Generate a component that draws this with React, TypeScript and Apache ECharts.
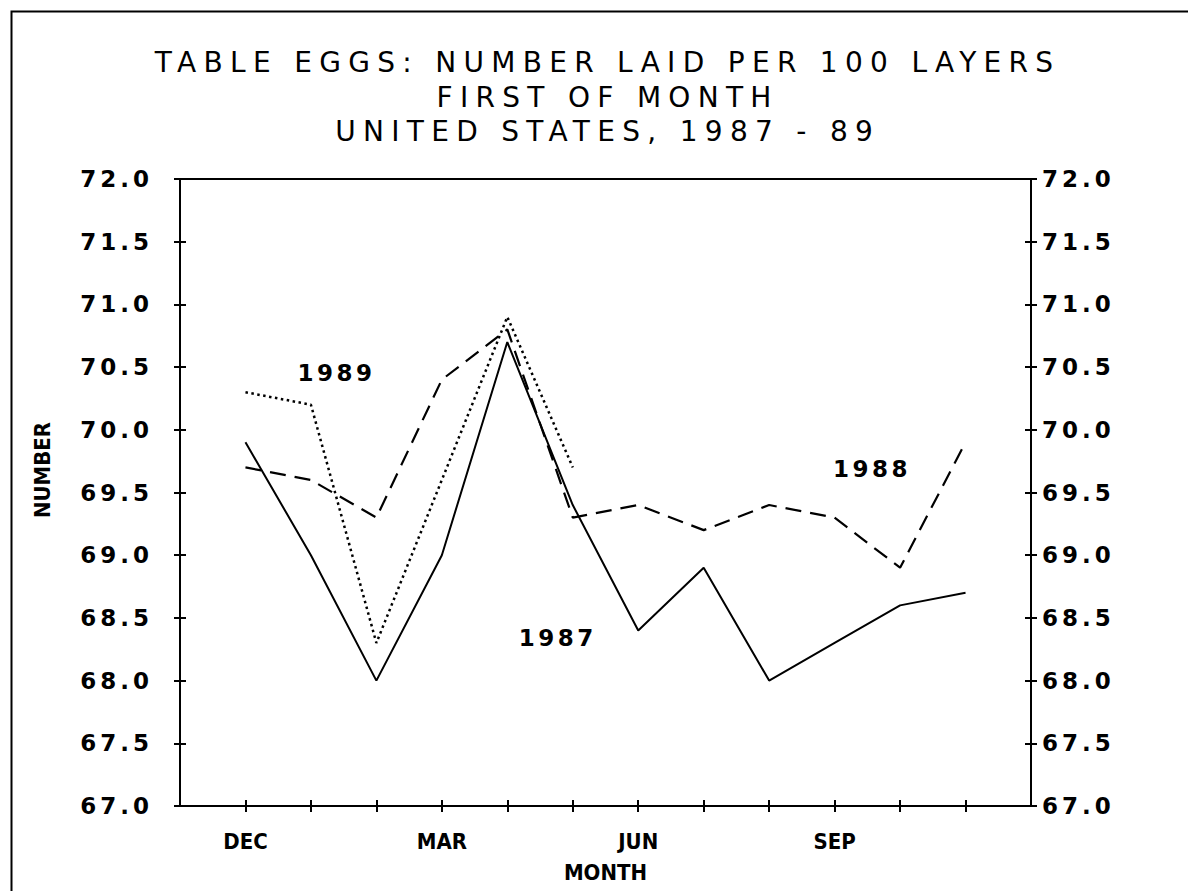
import React, { useEffect, useRef } from "react";
import * as echarts from "echarts";

const MONTHS = ["DEC", "JAN", "FEB", "MAR", "APR", "MAY", "JUN", "JUL", "AUG", "SEP", "OCT", "NOV"];
const LABELED_MONTHS = [0, 3, 6, 9];
const Y1987 = [69.9, 69.0, 68.0, 69.0, 70.7, 69.4, 68.4, 68.9, 68.0, 68.3, 68.6, 68.7];
const Y1988 = [69.7, 69.6, 69.3, 70.4, 70.8, 69.3, 69.4, 69.2, 69.4, 69.3, 68.9, 69.9];
const Y1989 = [70.3, 70.2, 68.3, 69.6, 70.9, 69.7];
const YEAR_LABELS: [number, number, string][] = [
  [1.39, 70.45, "1989"],
  [9.57, 69.69, "1988"],
  [4.77, 68.34, "1987"],
];
const TITLE_LINES = ["TABLE EGGS: NUMBER LAID PER 100 LAYERS", "FIRST OF MONTH", "UNITED STATES, 1987 - 89"];
const Y_MIN = 67;
const Y_MAX = 72;
const Y_STEP = 0.5;

const WIDE = "'DejaVu Sans', sans-serif";
const NARROW = "'DejaVu Sans Condensed', 'Liberation Sans Narrow', sans-serif";

const SP_TITLE = 7.3;
const SP_TICK = 4;
const SP_YEAR = 3.5;

export default function App() {
  const ref = useRef<HTMLDivElement>(null);
  useEffect(() => {
    if (!ref.current) return;
    const chart = echarts.init(ref.current, null, { renderer: "svg" });
    const toPairs = (arr: number[]) => arr.map((v, i) => [i, v]);
    const tickIdx = MONTHS.map((_, i) => i);
    const yLabel = {
      formatter: (v: number) => v.toFixed(1),
      color: "#000",
      fontFamily: WIDE,
      fontWeight: "bold" as const,
      fontSize: 23,
    };
    const noLine = { show: false, onZero: false };
    const yBase = { type: "value" as const, min: Y_MIN, max: Y_MAX, interval: Y_STEP, splitLine: { show: false } };
    const option: any = {
      animation: false,
      backgroundColor: "#fff",
      grid: { left: 180, right: 157, top: 179, bottom: 85, show: true, borderColor: "#000", borderWidth: 2 },
      xAxis: [
        {
          type: "value",
          min: -1,
          max: 12,
          interval: 1,
          position: "bottom",
          splitLine: { show: false },
          axisLine: noLine,
          axisTick: { show: true, length: 6, customValues: tickIdx, lineStyle: { color: "#000", width: 2 } },
          axisLabel: {
            customValues: LABELED_MONTHS,
            formatter: (v: number) => MONTHS[v] ?? "",
            color: "#000",
            fontFamily: NARROW,
            fontWeight: "bold",
            fontSize: 22,
            margin: 24,
          },
          name: "MONTH",
          nameLocation: "middle",
          nameGap: 55,
          nameTextStyle: { color: "#000", fontFamily: NARROW, fontWeight: "bold", fontSize: 22 },
        },
        {
          type: "value",
          min: -1,
          max: 12,
          interval: 1,
          position: "bottom",
          splitLine: { show: false },
          axisLine: noLine,
          axisTick: { show: true, inside: true, length: 6, customValues: tickIdx, lineStyle: { color: "#000", width: 2 } },
          axisLabel: { show: false },
        },
      ],
      yAxis: [
        {
          ...yBase,
          position: "left",
          axisLine: noLine,
          axisTick: { show: true, length: 6, lineStyle: { color: "#000", width: 2 } },
          axisLabel: { ...yLabel, margin: 27 },
        },
        {
          ...yBase,
          position: "left",
          axisLine: noLine,
          axisTick: { show: true, inside: true, length: 6, lineStyle: { color: "#000", width: 2 } },
          axisLabel: { show: false },
        },
        {
          ...yBase,
          position: "right",
          axisLine: noLine,
          axisTick: { show: true, length: 6, lineStyle: { color: "#000", width: 2 } },
          axisLabel: { ...yLabel, margin: 11 },
        },
        {
          ...yBase,
          position: "right",
          axisLine: noLine,
          axisTick: { show: true, inside: true, length: 6, lineStyle: { color: "#000", width: 2 } },
          axisLabel: { show: false },
        },
      ],
      series: [
        {
          name: "1987",
          type: "line",
          data: toPairs(Y1987),
          symbol: "none",
          silent: true,
          lineStyle: { color: "#000", width: 2, type: "solid" },
        },
        {
          name: "1988",
          type: "line",
          data: toPairs(Y1988),
          symbol: "none",
          silent: true,
          lineStyle: { color: "#000", width: 2.2, type: [16, 9] },
        },
        {
          name: "1989",
          type: "line",
          data: toPairs(Y1989),
          symbol: "none",
          silent: true,
          lineStyle: { color: "#000", width: 2.5, type: [2.5, 3.5] },
        },
        {
          type: "scatter",
          data: YEAR_LABELS.map(([x, y, t]) => ({ value: [x, y], name: t })),
          symbolSize: 0,
          silent: true,
          itemStyle: { color: "#000", opacity: 1 },
          label: {
            show: true,
            position: "inside",
            formatter: (p: any) => p.name,
            color: "#000",
            opacity: 1,
            textBorderWidth: 0,
            fontFamily: WIDE,
            fontWeight: "bold",
            fontSize: 23,
          },
        },
      ],
      graphic: [
        {
          type: "rect",
          left: 9,
          top: 9,
          shape: { width: 1200, height: 900 },
          style: { fill: "none", stroke: "#000", lineWidth: 2 },
          silent: true,
        },
        ...TITLE_LINES.map((t, i) => ({
          type: "text",
          x: 604 + SP_TITLE / 2,
          y: [62, 97, 131][i],
          silent: true,
          style: {
            text: t,
            align: "center",
            verticalAlign: "middle",
            fill: "#000",
            fontFamily: WIDE,
            fontSize: 28,
          },
        })),
        {
          type: "text",
          x: 42,
          y: 470,
          rotation: Math.PI / 2,
          silent: true,
          style: {
            text: "NUMBER",
            align: "center",
            verticalAlign: "middle",
            fill: "#000",
            fontFamily: NARROW,
            fontWeight: "bold",
            fontSize: 22,
          },
        },
      ],
    };
    chart.setOption(option);
    const applySpacing = () => {
      const svg = ref.current?.querySelector("svg");
      if (!svg) return;
      svg.querySelectorAll("text").forEach((t) => {
        const s = (t.textContent || "").trim();
        let ls = 0;
        if (TITLE_LINES.includes(s)) ls = SP_TITLE;
        else if (/^\d\d\.\d$/.test(s)) ls = SP_TICK;
        else if (/^19\d\d$/.test(s)) ls = SP_YEAR;
        if (ls) t.setAttribute("letter-spacing", String(ls));
      });
    };
    applySpacing();
    chart.on("rendered", applySpacing);
    const timer = setTimeout(applySpacing, 30);
    return () => {
      clearTimeout(timer);
      chart.dispose();
    };
  }, []);
  return <div ref={ref} style={{ position: "fixed", left: 0, top: 0, width: 1188, height: 891 }} />;
}
